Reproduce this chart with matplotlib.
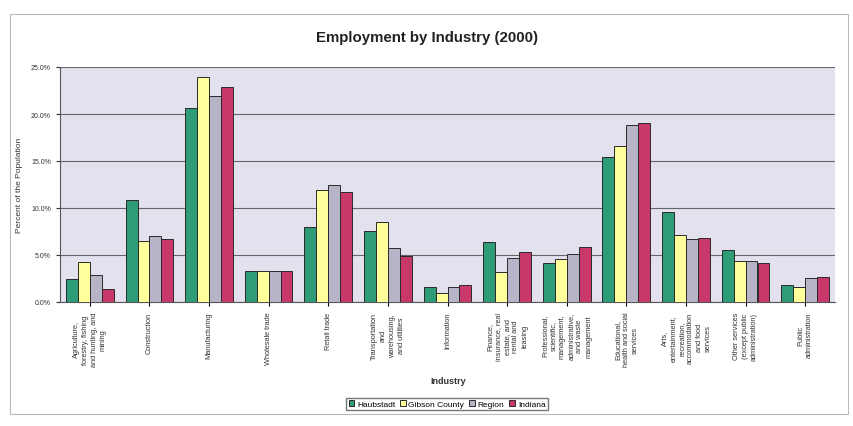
import matplotlib
matplotlib.use("Agg")
import matplotlib.pyplot as plt
import numpy as np
from matplotlib.ticker import FuncFormatter, MultipleLocator

plt.rcParams["font.family"] = ["Liberation Sans", "DejaVu Sans"]

categories = [
    "Agriculture,\nforestry, fishing\nand hunting, and\nmining",
    "Construction",
    "Manufacturing",
    "Wholesale trade",
    "Retail trade",
    "Transportation\nand\nwarehousing,\nand utilities",
    "Information",
    "Finance,\ninsurance, real\nestate, and\nrental and\nleasing",
    "Professional,\nscientific,\nmanagement,\nadministrative,\nand waste\nmanagement",
    "Educational,\nhealth and social\nservices",
    "Arts,\nentertainment,\nrecreation,\naccommodation\nand food\nservices",
    "Other services\n(except public\nadministration)",
    "Public\nadministration",
]
series_names = ["Haubstadt", "Gibson County", "Region", "Indiana"]
haubstadt = [2.4, 10.8, 20.6, 3.3, 8.0, 7.6, 1.6, 6.4, 4.1, 15.4, 9.6, 5.5, 1.8]
gibson = [4.3, 6.5, 23.9, 3.3, 11.9, 8.5, 1.0, 3.2, 4.6, 16.6, 7.1, 4.4, 1.6]
region = [2.9, 7.0, 21.9, 3.3, 12.4, 5.7, 1.6, 4.7, 5.1, 18.8, 6.7, 4.4, 2.6]
indiana = [1.4, 6.7, 22.9, 3.3, 11.7, 4.9, 1.8, 5.3, 5.9, 19.0, 6.8, 4.1, 2.7]
series = [haubstadt, gibson, region, indiana]
colors = ["#2f9c78", "#ffff9c", "#b8b4c8", "#c9386a"]

fig = plt.figure(figsize=(8.54, 4.27), dpi=100)
ax = fig.add_axes([60 / 854, 1 - 303 / 427, 775 / 854, 235 / 427])
ax.set_facecolor("#e3e1ee")

x = np.arange(len(categories))
w = 0.2
for i, (vals, c, name) in enumerate(zip(series, colors, series_names)):
    ax.bar(x + (i - 1.5) * w, vals, w, color=c, edgecolor="#2a2a2a",
           linewidth=0.7, label=name, zorder=3)

ax.set_xlim(-0.5, len(categories) - 0.5)
ax.set_ylim(0, 25)
ax.yaxis.set_major_locator(MultipleLocator(5))
ax.yaxis.set_major_formatter(FuncFormatter(lambda v, p: f"{v:.1f}%"))
ax.grid(axis="y", color="#666666", linewidth=0.8, zorder=1)
ax.set_xticks(x)
ax.set_xticklabels(categories, rotation=90, fontsize=5.3, va="top",
                   ha="center", multialignment="center", color="#333333",
                   linespacing=1.35)
ax.tick_params(axis="y", labelsize=5, length=3, colors="#333333")
ax.tick_params(axis="x", length=3, pad=4)
for s in ["top", "right"]:
    ax.spines[s].set_visible(False)
ax.spines["left"].set_color("#555555")
ax.spines["bottom"].set_color("#555555")

fig.text(20 / 854, 1 - 185 / 427, "Percent of the Population", rotation=90,
         ha="center", va="center", fontsize=6, color="#333333")
fig.text(0.5, 1 - 38 / 427, "Employment by Industry (2000)",
         ha="center", va="center", fontsize=10.8, fontweight="bold", color="#222222")
fig.text(448 / 854, 1 - 382 / 427, "Industry", ha="center",
         va="center", fontsize=6.5, fontweight="bold", color="#333333")

handles, labels = ax.get_legend_handles_labels()
leg = fig.legend(handles, labels, loc="center", ncol=4, fontsize=6,
                 bbox_to_anchor=(447 / 854, 1 - 405 / 427), frameon=True,
                 fancybox=False, edgecolor="#555555", handlelength=0.7,
                 handleheight=0.7, handletextpad=0.3, columnspacing=0.6,
                 borderpad=0.3)

# outer chart border
fig.patches.append(plt.Rectangle((10 / 854, 12 / 427), 838 / 854, 400 / 427,
                                 transform=fig.transFigure, fill=False,
                                 edgecolor="#bbbbbb", linewidth=0.8))

fig.savefig("out.png", dpi=100)
